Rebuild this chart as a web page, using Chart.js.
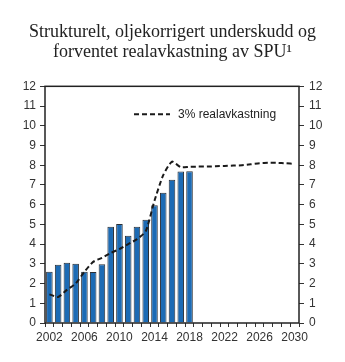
<!DOCTYPE html>
<html>
<head>
<meta charset="utf-8">
<script src="https://cdn.jsdelivr.net/npm/chart.js@4"></script>
<style>
  html, body { margin: 0; padding: 0; background: #fff; }
  #wrap { width: 345px; height: 362px; }
</style>
</head>
<body>
<div id="wrap"><canvas id="chart"></canvas></div>
<script>
const years = ["2002", "2003", "2004", "2005", "2006", "2007", "2008", "2009", "2010", "2011",
  "2012", "2013", "2014", "2015", "2016", "2017", "2018", "2019", "2020", "2021",
  "2022", "2023", "2024", "2025", "2026", "2027", "2028", "2029", "2030"];

// strukturelt, oljekorrigert underskudd (bars)
const underskudd = [2.6, 2.95, 3.05, 3.0, 2.6, 2.58, 2.98, 4.88, 5.02, 4.43,
  4.88, 5.24, 5.97, 6.6, 7.26, 7.68, 7.7, null, null, null,
  null, null, null, null, null, null, null, null, null];

// 3% realavkastning (dashed line)
const realavkastning = [1.45, 1.32, 1.68, 2.0, 2.6, 3.1, 3.3, 3.55, 3.75, 4.0,
  4.25, 4.65, 6.2, 7.5, 8.18, 7.9, 7.92, 7.93, 7.93, 7.95,
  7.96, 7.98, 8.0, 8.05, 8.1, 8.12, 8.12, 8.1, 8.07];

const yTicks = [0, 1, 2, 3, 4, 5, 6, 7, 8, 9, 10, 11, 12];

const tickFont = { family: "Liberation Sans, Arial, sans-serif", size: 12 };
const tickColor = "#333";

// frame round the plot area
const framePlugin = {
  id: "frame",
  afterDraw(chart) {
    const { ctx, chartArea: a } = chart;
    ctx.save();
    ctx.strokeStyle = "#222";
    ctx.lineWidth = 1.5;
    ctx.strokeRect(a.left, a.top, a.right - a.left, a.bottom - a.top);
    ctx.restore();
  }
};

// legend inside the plot
const innerLegend = {
  id: "innerLegend",
  afterDraw(chart) {
    const { ctx, chartArea: a } = chart;
    const ds = chart.data.datasets[1];
    const x = a.left + 89, y = a.top + 28;
    ctx.save();
    ctx.strokeStyle = ds.borderColor;
    ctx.lineWidth = ds.borderWidth;
    ctx.setLineDash(ds.borderDash);
    ctx.beginPath();
    ctx.moveTo(x, y);
    ctx.lineTo(x + 36, y);
    ctx.stroke();
    ctx.setLineDash([]);
    ctx.fillStyle = "#222";
    ctx.font = "12px Liberation Sans, Arial, sans-serif";
    ctx.textBaseline = "middle";
    ctx.fillText(ds.label, x + 44, y);
    ctx.restore();
  }
};

new Chart(document.getElementById("chart"), {
  data: {
    labels: years,
    datasets: [
      {
        type: "bar",
        label: "Strukturelt, oljekorrigert underskudd",
        data: underskudd,
        backgroundColor: "#1c6bb5",
        borderColor: "#2a2f36",
        borderWidth: 1,
        barPercentage: 0.75,
        categoryPercentage: 1,
        order: 2
      },
      {
        type: "line",
        label: "3% realavkastning",
        data: realavkastning,
        borderColor: "#1a1a1a",
        borderWidth: 2,
        borderDash: [5, 3],
        pointRadius: 0,
        tension: 0.2,
        fill: false,
        order: 1
      }
    ]
  },
  plugins: [framePlugin, innerLegend],
  options: {
    responsive: true,
    maintainAspectRatio: false,
    animation: false,
    events: [],
    layout: { padding: 0 },
    plugins: {
      legend: { display: false },
      tooltip: { enabled: false },
      title: {
        display: true,
        text: ["Strukturelt, oljekorrigert underskudd og", "forventet realavkastning av SPU\u00b9"],
        color: "#222",
        font: { family: "Liberation Serif, Times New Roman, serif", size: 18, weight: "normal", lineHeight: 1.12 },
        padding: { top: 22, bottom: 24 }
      }
    },
    scales: {
      x: {
        grid: { display: true, drawOnChartArea: false, drawTicks: true, tickLength: 4, color: "#333", offset: true },
        border: { display: false },
        ticks: {
          autoSkip: false,
          maxRotation: 0,
          padding: 3,
          color: tickColor,
          font: tickFont,
          callback: function (value, index) {
            return index % 4 === 0 ? years[index] : "";
          }
        },
        afterFit: (s) => { s.height = 39; }
      },
      y: {
        position: "left",
        min: 0,
        max: 12,
        afterBuildTicks: (s) => { s.ticks = yTicks.map((v) => ({ value: v })); },
        grid: { display: true, drawOnChartArea: false, drawTicks: true, tickLength: 5, color: "#333" },
        border: { display: false },
        ticks: { padding: 4, color: tickColor, font: tickFont },
        afterFit: (s) => { s.width = 45; }
      },
      y2: {
        position: "right",
        min: 0,
        max: 12,
        afterBuildTicks: (s) => { s.ticks = yTicks.map((v) => ({ value: v })); },
        grid: { display: true, drawOnChartArea: false, drawTicks: true, tickLength: 5, color: "#333" },
        border: { display: false },
        ticks: { padding: 5, color: tickColor, font: tickFont },
        afterFit: (s) => { s.width = 46; }
      }
    }
  }
});
</script>
</body>
</html>
